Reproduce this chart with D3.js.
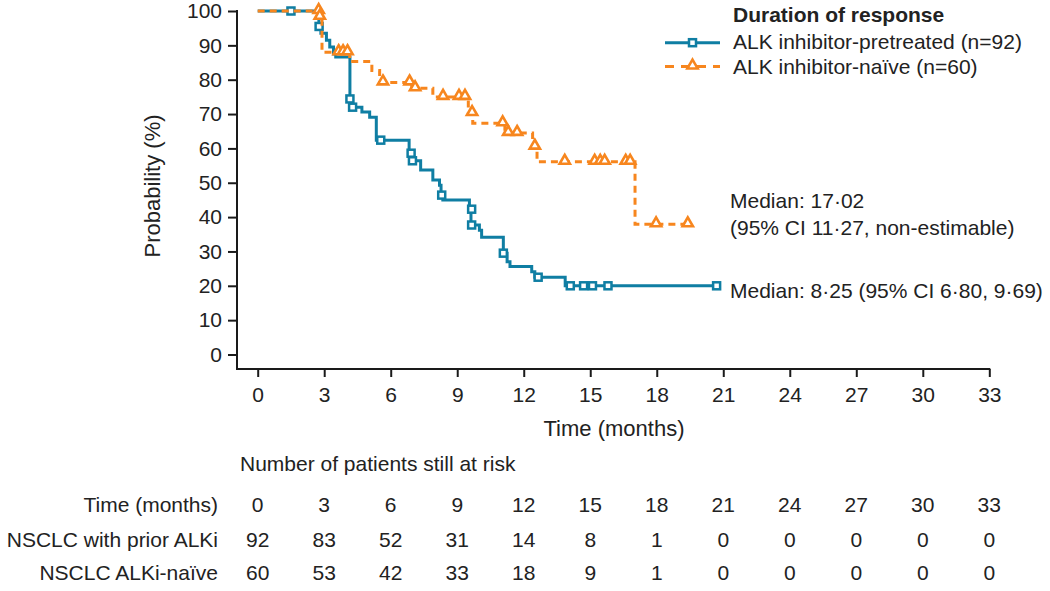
<!DOCTYPE html>
<html>
<head>
<meta charset="utf-8">
<script src="https://cdn.jsdelivr.net/npm/d3@7"></script>
<style>
  body { margin: 0; background: #fff; }
  svg { display: block; font-family: "Liberation Sans", Arial, sans-serif; }
</style>
</head>
<body>
<svg id="chart" width="1050" height="591"></svg>
<script>
// Kaplan-Meier steps: [month, probability %]
const pretreatedSteps = [[0,100],[2.76,95.5],[2.85,93.5],[3.1,91.5],[3.25,89.5],[3.42,87.5],[3.52,86.6],
  [4.16,74.4],[4.25,72.0],[4.7,70.6],[5.05,69.1],[5.35,62.4],[6.83,58.6],[6.95,56.4],[7.35,53.7],
  [7.9,50.8],[8.2,49.3],[8.27,46.4],[8.35,45.0],[9.55,42.3],[9.62,37.7],[10.0,36.2],[10.1,34.1],
  [11.08,29.5],[11.25,27.0],[11.38,25.6],[12.36,24.1],[12.5,22.5],[13.87,20.0]];
const pretreatedEnd = 20.7;
const pretreatedCensor = [[1.5,100],[2.77,95.5],[4.16,74.4],[4.28,72.0],[5.55,62.4],[6.92,58.6],[6.98,56.4],
  [8.3,46.4],[9.65,42.3],[9.65,37.7],[11.08,29.5],[12.65,22.5],[14.1,20],[14.7,20],[15.1,20],[15.8,20],[20.7,20]];

const naiveSteps = [[0,100],[2.78,98.3],[2.9,88.0],[4.15,85.3],[5.15,82.7],[5.5,79.2],[6.95,77.5],
  [7.9,75.0],[9.5,70.3],[9.7,67.3],[11.15,64.5],[12.4,60.5],[12.6,56.1],[17.02,37.9]];
const naiveEnd = 19.4;
const naiveCensor = [[2.75,100],[2.8,98.3],[3.65,88],[3.85,88],[4.05,88],[5.65,79.2],[6.85,79.2],[7.1,77.5],
  [8.36,75],[9.08,75],[9.35,75],[9.67,70.3],[11.05,67.3],[11.3,64.5],[11.7,64.5],[12.5,60.5],
  [13.85,56.1],[15.2,56.1],[15.45,56.1],[15.65,56.1],[16.6,56.1],[16.8,56.1],[17.97,37.9],[19.4,37.9]];

const xTicks = [0,3,6,9,12,15,18,21,24,27,30,33];
const yTicks = [0,10,20,30,40,50,60,70,80,90,100];
const riskLabels = ["Time (months)", "NSCLC with prior ALKi", "NSCLC ALKi-naïve"];
const riskPretreated = [92,83,52,31,14,8,1,0,0,0,0,0];
const riskNaive = [60,53,42,33,18,9,1,0,0,0,0,0];

const blue = "#0f7ea3", orange = "#f7861e";
const svg = d3.select("#chart");

const x = d3.scaleLinear().domain([0,33]).range([257.7, 989.3]);
const y = d3.scaleLinear().domain([0,100]).range([354.5, 11]);
const axisY = 369, axisX = 237;

// axes
const gx = svg.append("g").attr("transform", `translate(0,${axisY})`)
  .call(d3.axisBottom(x).tickValues(xTicks).tickSize(8).tickSizeOuter(0).tickPadding(6));
gx.select(".domain").remove();
gx.append("line").attr("x1", axisX).attr("x2", x(33) + 1).attr("stroke", "#1a1a1a").attr("stroke-width", 2);

const gy = svg.append("g").attr("transform", `translate(${axisX},0)`)
  .call(d3.axisLeft(y).tickValues(yTicks).tickSize(9).tickSizeOuter(0).tickPadding(6));
gy.select(".domain").remove();
gy.append("line").attr("y1", y(100) - 1).attr("y2", axisY + 1).attr("stroke", "#1a1a1a").attr("stroke-width", 2);

svg.selectAll(".tick line").attr("stroke", "#1a1a1a").attr("stroke-width", 2);
svg.selectAll(".tick text").attr("font-size", 21).attr("fill", "#222").attr("font-family", "Liberation Sans, Arial, sans-serif");
gx.selectAll(".tick text").attr("dy", "0.9em");

svg.append("text").attr("transform", `translate(160,186) rotate(-90)`)
  .attr("text-anchor", "middle").attr("font-size", 22).attr("fill", "#222").text("Probability (%)");
svg.append("text").attr("x", 614).attr("y", 436)
  .attr("text-anchor", "middle").attr("font-size", 22).attr("fill", "#222").text("Time (months)");

// curves
const line = d3.line().x(d => x(d[0])).y(d => y(d[1])).curve(d3.curveStepAfter);
function curve(steps, end, color, dash) {
  const pts = steps.concat([[end, steps[steps.length - 1][1]]]);
  svg.append("path").datum(pts).attr("d", line)
    .attr("fill", "none").attr("stroke", color).attr("stroke-width", 3)
    .attr("stroke-dasharray", dash);
}
function squares(data) {
  svg.append("g").selectAll("rect").data(data).join("rect")
    .attr("x", d => x(d[0]) - 3.5).attr("y", d => y(d[1]) - 3.5)
    .attr("width", 7).attr("height", 7)
    .attr("fill", "#fff").attr("stroke", blue).attr("stroke-width", 2.5);
}
const tri = d3.symbol().type(d3.symbolTriangle).size(46);
function triangles(data) {
  svg.append("g").selectAll("path").data(data).join("path")
    .attr("transform", d => `translate(${x(d[0])},${y(d[1]) - 1})`)
    .attr("d", tri).attr("fill", "#fff").attr("stroke", orange).attr("stroke-width", 2.6);
}
curve(pretreatedSteps, pretreatedEnd, blue, null);
squares(pretreatedCensor);
curve(naiveSteps, naiveEnd, orange, "7,5");
triangles(naiveCensor);

// legend
const lg = svg.append("g");
lg.append("text").attr("x", 733).attr("y", 22).attr("font-size", 21).attr("font-weight", "bold")
  .attr("fill", "#222").text("Duration of response");
const legendItems = [
  {label: "ALK inhibitor-pretreated (n=92)", color: blue, dash: null, ly: 42.7, ty: 48.5},
  {label: "ALK inhibitor-naïve (n=60)", color: orange, dash: "9,7", ly: 66.5, ty: 74}
];
legendItems.forEach((it, i) => {
  lg.append("line").attr("x1", 665).attr("x2", 720).attr("y1", it.ly).attr("y2", it.ly)
    .attr("stroke", it.color).attr("stroke-width", 3).attr("stroke-dasharray", it.dash);
  if (i === 0) {
    lg.append("rect").attr("x", 689).attr("y", it.ly - 3.5).attr("width", 7).attr("height", 7)
      .attr("fill", "#fff").attr("stroke", blue).attr("stroke-width", 2.5);
  } else {
    lg.append("path").attr("transform", `translate(692.5,${it.ly - 1})`).attr("d", tri)
      .attr("fill", "#fff").attr("stroke", orange).attr("stroke-width", 2.6);
  }
  lg.append("text").attr("x", 733).attr("y", it.ty).attr("font-size", 21).attr("fill", "#222").text(it.label);
});

// medians
const medTexts = [["Median: 17·02", 208], ["(95% CI 11·27, non-estimable)", 235], ["Median: 8·25 (95% CI 6·80, 9·69)", 298]];
svg.append("g").selectAll("text").data(medTexts).join("text")
  .attr("x", 730).attr("y", d => d[1]).attr("font-size", 21).attr("fill", "#222").text(d => d[0]);

// risk table
svg.append("text").attr("x", 240).attr("y", 471).attr("font-size", 21).attr("fill", "#222")
  .text("Number of patients still at risk");
const rows = [xTicks, riskPretreated, riskNaive];
const rowY = [512, 547, 580];
rows.forEach((vals, r) => {
  svg.append("text").attr("x", 218).attr("y", rowY[r]).attr("text-anchor", "end")
    .attr("font-size", 21).attr("fill", "#222").text(riskLabels[r]);
  svg.append("g").selectAll("text").data(vals).join("text")
    .attr("x", (d, i) => x(xTicks[i])).attr("y", rowY[r]).attr("text-anchor", "middle")
    .attr("font-size", 21).attr("fill", "#222").text(d => d);
});
</script>
</body>
</html>
